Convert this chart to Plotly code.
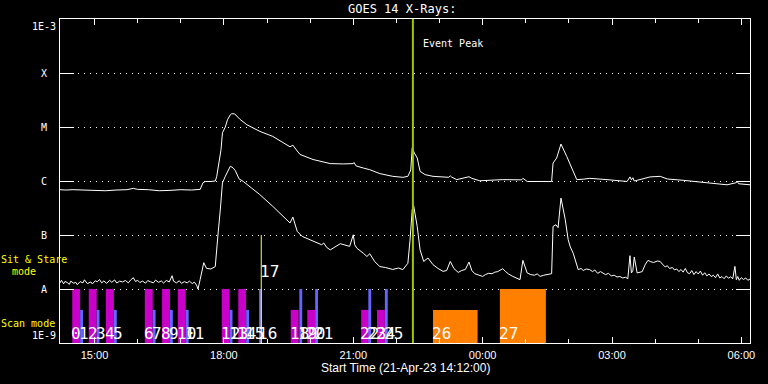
import math
import plotly.graph_objects as go

DAY0 = "2023-04-21"
DAY1 = "2023-04-22"


def ts(hm):
    """Clock time -> full timestamp (times before noon belong to the next day)."""
    return (DAY1 if int(hm[:2]) < 12 else DAY0) + " " + hm


# ---------------- data ----------------
x_range = ["14:12", "06:12"]
major_tick0 = "15:00"

long_time = ["14:12", "14:20", "14:30", "14:45", "15:00", "15:15", "15:30", "15:45", "15:54", "16:00",
             "16:15", "16:30", "16:45", "17:00", "17:15", "17:27", "17:31", "17:34", "17:42", "17:48",
             "17:50", "17:52", "17:56", "17:58", "18:02", "18:05", "18:09", "18:11", "18:15", "18:22",
             "18:32", "18:50", "19:08", "19:32", "19:36", "19:42", "19:46", "20:04", "20:28", "20:46",
             "21:00", "21:01", "21:04", "21:14", "21:23", "21:37", "21:55", "22:09", "22:16", "22:20",
             "22:22", "22:25", "22:29", "22:33", "22:40", "22:51", "23:13", "23:15", "23:17", "23:24",
             "23:41", "23:45", "23:56", "00:28", "00:54", "00:56", "01:02", "01:36", "01:38", "01:43",
             "01:49", "01:57", "02:06", "02:11", "02:20", "02:29", "02:53", "03:21", "03:25", "03:27",
             "03:29", "03:31", "03:35", "03:53", "04:07", "04:17", "04:39", "05:07", "05:40", "05:53",
             "05:54", "05:56", "06:12"]
long_flux = [6.9e-7, 6.8e-7, 6.9e-7, 6.8e-7, 6.9e-7, 6.6e-7, 6.8e-7, 6.9e-7, 7.3e-7, 7.0e-7,
             6.9e-7, 6.6e-7, 6.7e-7, 6.9e-7, 6.8e-7, 7.0e-7, 9.3e-7, 9.8e-7, 9.8e-7, 1.0e-6,
             1.2e-6, 1.9e-6, 3.8e-6, 7.8e-6, 1.0e-5, 1.36e-5, 1.69e-5, 1.76e-5, 1.75e-5, 1.4e-5,
             1.1e-5, 8.3e-6, 6.7e-6, 4.3e-6, 4.6e-6, 3.6e-6, 3.1e-6, 2.5e-6, 2.1e-6, 2.07e-6,
             2.1e-6, 2.2e-6, 1.9e-6, 1.74e-6, 1.62e-6, 1.37e-6, 1.22e-6, 1.17e-6, 1.22e-6, 1.6e-6,
             4.1e-6, 3.3e-6, 2.67e-6, 1.51e-6, 1.31e-6, 1.22e-6, 1.17e-6, 1.25e-6, 1.18e-6, 1.06e-6,
             1.2e-6, 1.12e-6, 1.01e-6, 1.06e-6, 1.05e-6, 1.12e-6, 9.8e-7, 9.8e-7, 2.15e-6, 2.67e-6,
             4.84e-6, 2.86e-6, 1.51e-6, 1.06e-6, 1.08e-6, 1.12e-6, 1.06e-6, 9.8e-7, 1.19e-6, 1.05e-6,
             1.15e-6, 1.0e-6, 1.03e-6, 1.19e-6, 1.22e-6, 1.09e-6, 1.03e-6, 9.4e-7, 8.5e-7, 9.3e-7,
             1.0e-6, 8.9e-7, 8.5e-7]

short_time = ["14:12", "14:14", "14:17", "14:19", "14:22", "14:25", "14:27", "14:31", "14:34", "14:36",
              "14:40", "14:44", "14:46", "14:50", "14:55", "14:57", "15:01", "15:04", "15:07", "15:10",
              "15:13", "15:17", "15:21", "15:24", "15:28", "15:31", "15:35", "15:39", "15:43", "15:47",
              "15:51", "15:54", "15:57", "16:00", "16:03", "16:07", "16:11", "16:14", "16:18", "16:22",
              "16:25", "16:29", "16:33", "16:36", "16:40", "16:44", "16:48", "16:50", "16:54", "16:58",
              "17:01", "17:05", "17:09", "17:12", "17:16", "17:19", "17:22", "17:24", "17:27", "17:30",
              "17:32", "17:36", "17:42", "17:48", "17:50", "17:52", "17:55", "17:56", "17:58", "18:02",
              "18:06", "18:09", "18:13", "18:16", "18:21", "18:27", "18:38", "18:50", "19:08", "19:22",
              "19:32", "19:36", "19:42", "19:49", "20:04", "20:16", "20:19", "20:23", "20:28", "20:42",
              "20:55", "21:00", "21:02", "21:05", "21:14", "21:19", "21:23", "21:30", "21:37", "21:45",
              "21:55", "22:03", "22:09", "22:16", "22:19", "22:22", "22:24", "22:29", "22:33", "22:38",
              "22:44", "22:51", "22:58", "23:05", "23:10", "23:15", "23:20", "23:26", "23:31", "23:36",
              "23:41", "23:45", "23:49", "23:55", "00:00", "00:04", "00:08", "00:13", "00:17", "00:21",
              "00:28", "00:32", "00:36", "00:42", "00:47", "00:52", "00:56", "01:02", "01:07", "01:12",
              "01:16", "01:20", "01:25", "01:30", "01:36", "01:38", "01:42", "01:45", "01:49", "01:55",
              "01:59", "02:02", "02:06", "02:13", "02:17", "02:20", "02:24", "02:29", "02:33", "02:36",
              "02:40", "02:44", "02:47", "02:51", "02:55", "02:59", "03:03", "03:07", "03:11", "03:15",
              "03:19", "03:22", "03:25", "03:27", "03:29", "03:31", "03:35", "03:42", "03:46", "03:50",
              "03:54", "03:58", "04:03", "04:07", "04:10", "04:14", "04:17", "04:20", "04:24", "04:27",
              "04:30", "04:33", "04:36", "04:39", "04:42", "04:45", "04:48", "04:51", "04:54", "04:57",
              "05:00", "05:03", "05:06", "05:09", "05:12", "05:15", "05:18", "05:21", "05:24", "05:27",
              "05:30", "05:33", "05:36", "05:39", "05:42", "05:45", "05:48", "05:51", "05:53", "05:55",
              "05:57", "06:00", "06:03", "06:06", "06:09", "06:12"]
short_flux = [1.3e-8, 1.45e-8, 1.25e-8, 1.38e-8, 1.32e-8, 1.22e-8, 1.4e-8, 1.28e-8, 1.33e-8, 1.2e-8,
              1.37e-8, 1.3e-8, 1.48e-8, 1.26e-8, 1.35e-8, 1.24e-8, 1.42e-8, 1.36e-8, 1.5e-8, 1.3e-8,
              1.41e-8, 1.27e-8, 1.45e-8, 1.33e-8, 1.47e-8, 1.29e-8, 1.4e-8, 1.35e-8, 1.44e-8, 1.3e-8,
              1.5e-8, 1.62e-8, 1.38e-8, 1.45e-8, 1.32e-8, 1.4e-8, 1.28e-8, 1.43e-8, 1.36e-8, 1.3e-8,
              1.46e-8, 1.33e-8, 1.41e-8, 1.29e-8, 1.44e-8, 1.35e-8, 1.76e-8, 1.4e-8, 1.3e-8, 1.42e-8,
              1.27e-8, 1.37e-8, 1.3e-8, 1.4e-8, 1.26e-8, 1.34e-8, 1.18e-8, 1.0e-8, 1.5e-8, 2.2e-8,
              3.07e-8, 2.4e-8, 2.35e-8, 2.6e-8, 6.2e-8, 1.09e-7, 2.9e-7, 5.2e-7, 9.2e-7, 1.22e-6,
              1.62e-6, 1.88e-6, 1.74e-6, 1.55e-6, 1.1e-6, 9.8e-7, 7.5e-7, 5.6e-7, 3.4e-7, 2.2e-7,
              1.67e-7, 2.15e-7, 1.17e-7, 9.4e-8, 7.6e-8, 6.6e-8, 7.1e-8, 5.9e-8, 5.3e-8, 6.9e-8,
              6.15e-8, 1.01e-7, 6.6e-8, 5.7e-8, 4.6e-8, 4.0e-8, 4.5e-8, 3.2e-8, 2.6e-8, 2.5e-8,
              2.3e-8, 2.45e-8, 2.28e-8, 3.0e-8, 8.0e-8, 2.94e-7, 3.49e-7, 1.44e-7, 5.3e-8, 3.24e-8,
              3.75e-8, 2.82e-8, 2.4e-8, 2.12e-8, 2.2e-8, 3.24e-8, 2.4e-8, 2.03e-8, 2.2e-8, 2.3e-8,
              3.16e-8, 2.2e-8, 1.92e-8, 1.8e-8, 1.71e-8, 1.85e-8, 1.95e-8, 1.92e-8, 2.05e-8, 2.1e-8,
              2.38e-8, 2.1e-8, 1.9e-8, 1.71e-8, 1.6e-8, 1.49e-8, 3.39e-8, 1.98e-8, 1.85e-8, 1.8e-8,
              1.9e-8, 1.71e-8, 1.8e-8, 1.85e-8, 1.92e-8, 1.44e-7, 1.55e-7, 1.37e-7, 4.84e-7, 1.92e-7,
              8.2e-8, 6.0e-8, 4.6e-8, 2.28e-8, 2.4e-8, 2.2e-8, 2.35e-8, 2.28e-8, 2.1e-8, 2.25e-8,
              1.95e-8, 2.1e-8, 1.98e-8, 1.85e-8, 1.95e-8, 1.75e-8, 1.8e-8, 1.67e-8, 1.7e-8, 1.6e-8,
              1.65e-8, 1.55e-8, 4.14e-8, 1.98e-8, 2.2e-8, 3.91e-8, 1.98e-8, 2.1e-8, 2.8e-8, 3.39e-8,
              3.2e-8, 3.1e-8, 3.3e-8, 3.24e-8, 2.9e-8, 2.56e-8, 2.7e-8, 2.4e-8, 2.5e-8, 2.25e-8,
              2.35e-8, 2.1e-8, 2.3e-8, 2.05e-8, 2.4e-8, 2.0e-8, 1.92e-8, 2.2e-8, 1.85e-8, 2.1e-8,
              1.9e-8, 2.15e-8, 1.8e-8, 2.0e-8, 1.75e-8, 1.9e-8, 1.7e-8, 1.8e-8, 1.62e-8, 1.9e-8,
              1.6e-8, 1.7e-8, 1.55e-8, 1.75e-8, 1.58e-8, 1.68e-8, 1.55e-8, 2.62e-8, 1.49e-8, 1.7e-8,
              1.45e-8, 1.62e-8, 1.5e-8, 1.6e-8, 1.45e-8, 1.53e-8]

# observations (scans)
scan_id = list(range(28))
scan_start = ["14:29", "14:40", "14:52", "15:03", "15:16", "15:27", "16:10", "16:21", "16:34", "16:45",
              "16:56", "17:07", "17:57", "18:08", "18:20", "18:31", "18:49", "18:52", "19:33", "19:45",
              "19:56", "20:07", "21:11", "21:21", "21:33", "21:44", "22:51", "00:24"]
scan_minutes = [11, 4, 11, 4, 11, 4, 11, 4, 11, 4,
                11, 4, 11, 4, 11, 4, 4, 1, 11, 4,
                11, 4, 11, 4, 11, 4, 62, 64]
scan_kind = ["A", "B", "A", "B", "A", "B", "A", "B", "A", "B",
             "A", "B", "A", "B", "A", "B", "B", "M", "A", "B",
             "A", "B", "A", "B", "A", "B", "C", "C"]
scan_mode = ["stare", "scan", "stare", "scan", "stare", "scan", "stare", "scan", "stare", "scan",
             "stare", "scan", "stare", "scan", "stare", "scan", "stare", "mark", "scan", "stare",
             "scan", "stare", "scan", "stare", "scan", "stare", "scan", "stare"]
mode_top = {"stare": 1e-8, "scan": 4.1e-9, "mark": 1e-7}
mode_label_level = {"stare": 1e-9, "scan": 1e-9, "mark": 2.1e-8}

event_peak = "22:23"

goes_classes = ["1E-3", "X", "M", "C", "B", "A", "1E-9"]
class_flux = [1e-3, 1e-4, 1e-5, 1e-6, 1e-7, 1e-8, 1e-9]

# ---------------- styles ----------------
kind_color = {"A": "#c800c8", "B": "#6464ff", "C": "#ff8000", "M": "#ffff40"}
FLOOR = 1e-9
MONO = "DejaVu Sans Mono"
SANS = "Liberation Sans"

fig = go.Figure()

# bars for scans
bar_idx = [i for i in scan_id if scan_mode[i] != "mark"]
fig.add_trace(go.Bar(
    x=[ts(scan_start[i]) for i in bar_idx],
    y=[mode_top[scan_mode[i]] - FLOOR for i in bar_idx],
    base=FLOOR,
    width=[scan_minutes[i] * 60000 for i in bar_idx],
    offset=0,
    marker=dict(color=[kind_color[scan_kind[i]] for i in bar_idx], line=dict(width=0)),
    hoverinfo="skip",
))
# marker-type scans drawn as thin lines
for i in scan_id:
    if scan_mode[i] == "mark":
        fig.add_trace(go.Scatter(
            x=[ts(scan_start[i]), ts(scan_start[i])],
            y=[FLOOR, mode_top[scan_mode[i]]],
            mode="lines", line=dict(color=kind_color[scan_kind[i]], width=1),
            hoverinfo="skip"))

# GOES curves
fig.add_trace(go.Scatter(x=[ts(t) for t in long_time], y=long_flux, mode="lines",
                         line=dict(color="white", width=1)))
fig.add_trace(go.Scatter(x=[ts(t) for t in short_time], y=short_flux, mode="lines",
                         line=dict(color="white", width=1)))

# event peak line (on the top time axis, which mirrors the bottom one)
fig.add_trace(go.Scatter(x=[ts(event_peak), ts(event_peak)], y=[class_flux[-1], class_flux[0]],
                         xaxis="x2", mode="lines", line=dict(color="#9cc800", width=2)))

ann = []
# scan labels
for i in scan_id:
    mark = scan_mode[i] == "mark"
    ann.append(dict(x=ts(scan_start[i]), xref="x", y=math.log10(mode_label_level[scan_mode[i]]),
                    yref="y", text=str(scan_id[i]), showarrow=False,
                    xanchor="left", yanchor="middle" if mark else "bottom",
                    xshift=-3, yshift=0 if mark else -2,
                    font=dict(family=MONO, size=16, color="white")))
# y class labels
for lab, fl in zip(goes_classes, class_flux):
    ya = "top" if fl == class_flux[0] else ("bottom" if fl == class_flux[-1] else "middle")
    ann.append(dict(x=0, xref="paper", xshift=-16, y=math.log10(fl), yref="y", text=lab,
                    showarrow=False, xanchor="center", yanchor=ya,
                    font=dict(family=MONO, size=10, color="white")))
# title / axis title
ann.append(dict(x=0.5, xref="paper", xshift=-3, y=(343 - 9) / 324, yref="paper", text="GOES 14 X-Rays:",
                showarrow=False, xanchor="center", yanchor="middle",
                font=dict(family=MONO, size=12, color="white")))
ann.append(dict(x=0.5, xref="paper", y=(343 - 367.5) / 324, yref="paper",
                text="Start Time (21-Apr-23 14:12:00)", showarrow=False,
                xanchor="center", yanchor="middle", font=dict(family=SANS, size=12, color="white")))
# mode labels
ann.append(dict(x=0, xref="paper", xshift=-26, y=(343 - 259) / 324, yref="paper", text="Sit & Stare",
                showarrow=False, xanchor="center", yanchor="middle",
                font=dict(family=MONO, size=10, color="yellow")))
ann.append(dict(x=0, xref="paper", xshift=-36, y=(343 - 271) / 324, yref="paper", text="mode",
                showarrow=False, xanchor="center", yanchor="middle",
                font=dict(family=MONO, size=10, color="yellow")))
ann.append(dict(x=0, xref="paper", xshift=-32, y=(343 - 323.5) / 324, yref="paper", text="Scan mode",
                showarrow=False, xanchor="center", yanchor="middle",
                font=dict(family=MONO, size=10, color="yellow")))
# event peak label
ann.append(dict(x=ts(event_peak), xref="x", xshift=8, y=(343 - 43) / 324, yref="paper",
                text="Event Peak", showarrow=False, xanchor="left", yanchor="middle",
                font=dict(family=MONO, size=10, color="white")))

time_axis = dict(type="date", range=[ts(x_range[0]), ts(x_range[1])],
                 showgrid=False, zeroline=False,
                 ticks="inside", ticklen=6, tickwidth=1, tickcolor="white",
                 tick0=ts(major_tick0), dtick=3 * 3600000,
                 minor=dict(ticks="inside", ticklen=4, tickwidth=1, tickcolor="white",
                            tick0=ts(major_tick0), dtick=3600000, showgrid=False))

fig.update_layout(
    width=768, height=384,
    margin=dict(l=60, r=18, t=19, b=41),
    paper_bgcolor="black", plot_bgcolor="black",
    showlegend=False, barmode="overlay",
    annotations=ann,
    xaxis=dict(time_axis, showline=True, linecolor="white", linewidth=1, mirror=True,
               tickformat="%H:%M", ticklabelstandoff=2,
               tickfont=dict(family=SANS, size=11, color="white")),
    xaxis2=dict(time_axis, overlaying="x", side="top", anchor="y", showticklabels=False,
                showline=False),
    yaxis=dict(type="log", range=[-9, -3], tickvals=class_flux[1:-1], showticklabels=False,
               zeroline=False, showline=True, linecolor="white", linewidth=1, mirror="ticks",
               ticks="inside", ticklen=14, tickwidth=1, tickcolor="white",
               showgrid=True, gridcolor="white", gridwidth=1, griddash="1px,5px"),
)

fig.write_html("out.html", config={"displayModeBar": False},
               post_script="document.body.style.margin='0';document.body.style.background='black';")
